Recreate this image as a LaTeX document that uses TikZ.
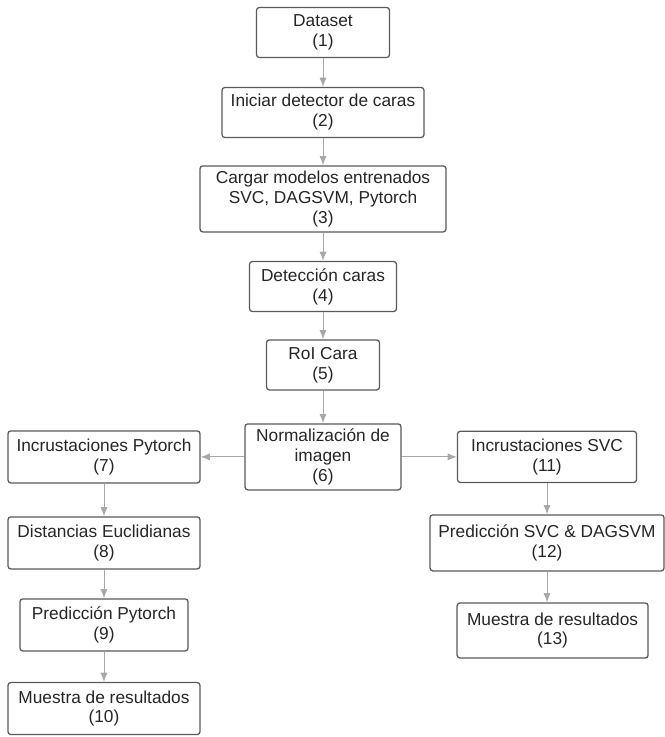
\documentclass[tikz,border=0pt]{standalone}
\usepackage{fontspec}
\setmainfont{Liberation Sans}
\usepackage{tikz}
\usetikzlibrary{shapes.geometric, arrows, arrows.meta}
\definecolor{boxline}{HTML}{5A5A5A}
\definecolor{arrowgray}{HTML}{A8A8A8}
\definecolor{boxtext}{HTML}{262626}
\tikzstyle{paso} = [rectangle, rounded corners=2pt, 
minimum width=3cm, 
minimum height=1.25cm,
text centered, 
align=center,
inner sep=2pt,
text=boxtext,
line width=0.9pt,
draw=boxline, 
fill=white,
font=\fontsize{12.3}{14.2}\selectfont]
\tikzstyle{arrow} = [line width=0.7pt, draw=arrowgray, ->, >={Latex[length=2.3mm,width=1.8mm]}]

\begin{document}
\begin{tikzpicture}[node distance=2cm]
\useasboundingbox (0,0) rectangle (16.6,-18.425);

\node (dataset) [paso, minimum width=3.325cm] at (8.075,-0.8125) {Dataset\\(1)};
\node (detector) [paso, below of=dataset, minimum width=5.05cm] {Iniciar detector de caras\\(2)};
\node (modelos) [paso, below of=detector, yshift=-0.16cm, minimum width=6.15cm, minimum height=1.65cm] {Cargar modelos entrenados\\SVC, DAGSVM, Pytorch\\(3)};
\node (deteccion) [paso, below of=modelos, yshift=-0.19cm, minimum width=3.675cm] {Detección caras\\(4)};
\node (roi) [paso, below of=deteccion, yshift=0.04cm, minimum width=2.825cm] {RoI Cara\\(5)};
\node (norm) [paso, below of=roi, yshift=-0.3cm, minimum width=3.9cm, minimum height=1.65cm] {Normalización de\\imagen\\(6)};
% rama Pytorch
\node (embpt) [paso, left of=norm, xshift=-3.475cm, minimum width=4.8cm, minimum height=1.3cm] {Incrustaciones Pytorch\\(7)};
\node (dist) [paso, below of=embpt, yshift=-0.15cm, minimum width=4.8cm, minimum height=1.3cm] {Distancias Euclidianas\\(8)};
\node (predpt) [paso, below of=dist, yshift=-0.05cm, minimum width=4.2cm, minimum height=1.3cm] {Predicción Pytorch\\(9)};
\node (resultpt) [paso, below of=predpt, yshift=-0.09cm, minimum width=4.8cm, minimum height=1.3cm] {Muestra de resultados\\(10)};
% rama SVC
\node (embsvc) [paso, right of=norm, xshift=3.6cm, minimum width=4.475cm, minimum height=1.28cm] {Incrustaciones SVC\\(11)};
\node (predsvc) [paso, below of=embsvc, yshift=-0.15cm, minimum width=5.85cm, minimum height=1.4cm] {Predicción SVC \& DAGSVM\\(12)};
\node (resultsvc) [paso, below of=predsvc, yshift=-0.19cm, xshift=0.14cm, minimum width=4.775cm, minimum height=1.375cm] {Muestra de resultados\\(13)};

\draw [arrow] (dataset) -- (detector);
\draw [arrow] (detector) -- (modelos);
\draw [arrow] (modelos) -- (deteccion);
\draw [arrow] (deteccion) -- (roi);
\draw [arrow] (roi) -- (norm);
\draw [arrow] (norm) -- (embpt);
\draw [arrow] (norm) -- (embsvc);
\draw [arrow] (embpt) -- (dist);
\draw [arrow] (dist) -- (predpt);
\draw [arrow] (predpt) -- (resultpt);
\draw [arrow] (embsvc) -- (predsvc);
\draw [arrow] (predsvc.south) -- (predsvc.south |- resultsvc.north);

\end{tikzpicture}
\end{document}
